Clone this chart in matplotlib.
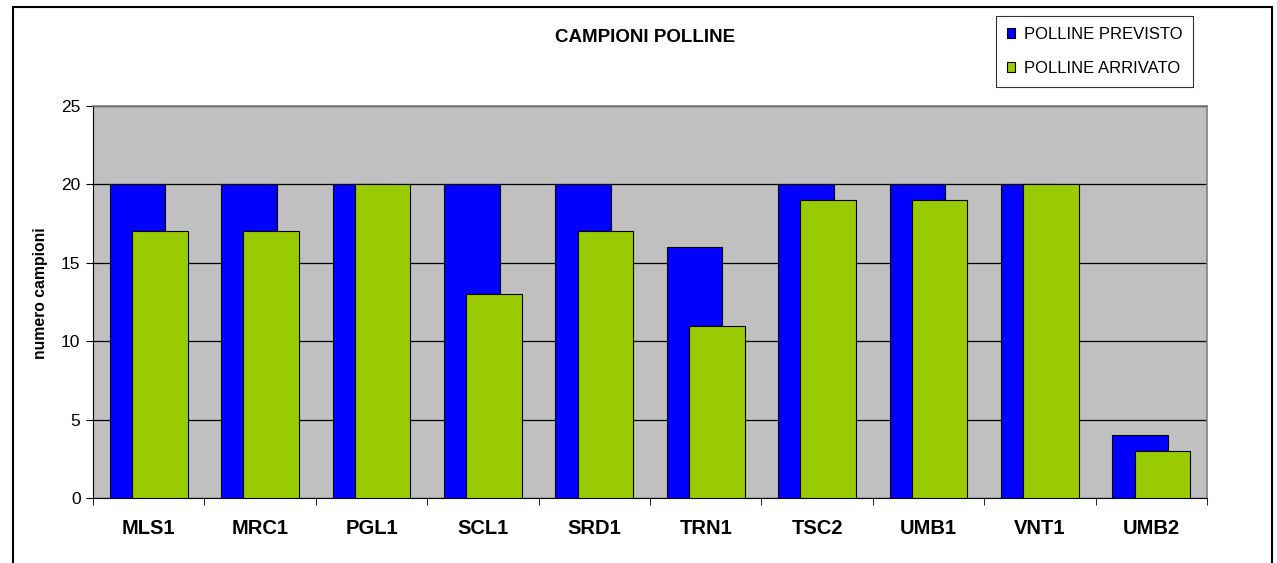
import numpy as np
import matplotlib.pyplot as plt
from matplotlib.patches import Rectangle

plt.rcParams['font.family'] = ['Liberation Sans', 'DejaVu Sans']

stazioni = ['MLS1', 'MRC1', 'PGL1', 'SCL1', 'SRD1', 'TRN1', 'TSC2', 'UMB1', 'VNT1', 'UMB2']
previsto = [20, 20, 20, 20, 20, 16, 20, 20, 20, 4]
arrivato = [17, 17, 20, 13, 17, 11, 19, 19, 20, 3]

fig = plt.figure(figsize=(12.77, 5.63), dpi=100)
ax = fig.add_axes([93/1277, 1-498/563, (1207-93)/1277, (498-106)/563])

x = np.arange(len(stazioni))
w = 0.5
ax.bar(x - 0.1, previsto, w, color='#0000FF', edgecolor='black', linewidth=0.8,
       label='POLLINE PREVISTO', zorder=3)
ax.bar(x + 0.1, arrivato, w, color='#99CC00', edgecolor='black', linewidth=0.8,
       label='POLLINE ARRIVATO', zorder=4)

ax.set_facecolor('#C0C0C0')
ax.set_xlim(-0.5, len(stazioni) - 0.5)
ax.set_ylim(0, 25)
ax.set_yticks([0, 5, 10, 15, 20, 25])
ax.yaxis.grid(True, color='black', linewidth=0.9, zorder=1)
ax.set_axisbelow(True)

ax.set_xticks(x)
ax.set_xticklabels(stazioni, fontsize=14.5, fontweight='bold')
ax.tick_params(axis='x', length=0, pad=15)
ax.set_xticks(np.arange(-0.5, len(stazioni)), minor=True)
ax.tick_params(axis='x', which='minor', length=5, direction='out', color='black')
ax.tick_params(axis='y', labelsize=12.5, length=5, direction='out', pad=4)

for s in ['top', 'right']:
    ax.spines[s].set_color('#808080')
    ax.spines[s].set_linewidth(1.2)
ax.spines['left'].set_color('black')
ax.spines['bottom'].set_color('black')

ax.set_ylabel('numero campioni', fontsize=11.3, fontweight='bold')
ax.yaxis.set_label_coords(-45/1114, 0.523)

fig.text(645/1277, 1-38/563, 'CAMPIONI POLLINE', ha='center', va='center',
         fontsize=13.5, fontweight='bold')

leg = fig.legend(loc='upper left', bbox_to_anchor=(996/1277, 1-16/563),
                 frameon=True, fancybox=False, edgecolor='black', fontsize=12,
                 handlelength=0.5, handleheight=0.5, handletextpad=0.5,
                 borderpad=0.65, labelspacing=1.15, borderaxespad=0)
leg.get_frame().set_linewidth(0.8)

fig.patches.append(Rectangle((13/1277, -0.1), (1272-13)/1277, 1.1 - 7/563,
                             transform=fig.transFigure, fill=False,
                             edgecolor='black', linewidth=1.5))

fig.savefig('out.png', dpi=100)
